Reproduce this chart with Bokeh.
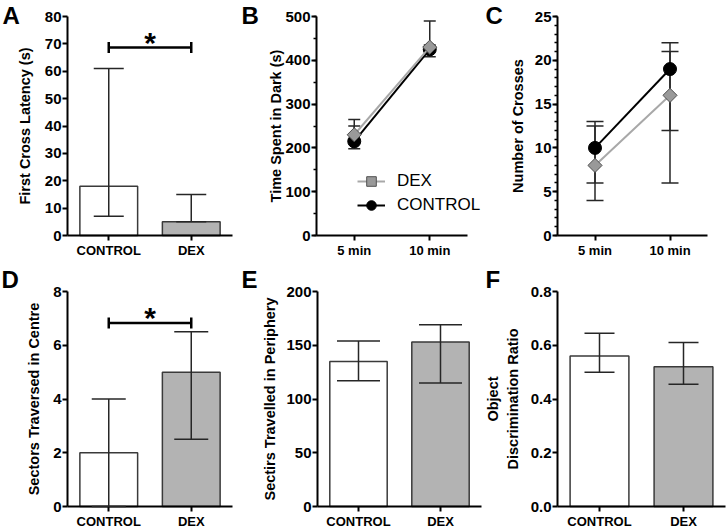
import numpy as np
from bokeh.plotting import figure
from bokeh.layouts import column, row
from bokeh.models import (Range1d, FixedTicker, SingleIntervalTicker, Whisker, TeeHead,
                          ColumnDataSource, Label, Legend, LegendItem, PrintfTickFormatter)
from bokeh.embed import file_html
from bokeh.resources import INLINE
from bokeh.core.properties import value

FONT = "Liberation Sans"

# ---------------- data ----------------
groups = ["CONTROL", "DEX"]
times = ["5 min", "10 min"]

# A: first cross latency
a_vals = [18, 5]
a_upper = [61, 15]
a_lower = [7, 5]
a_sig = 68.7

# B: time spent in dark
b_ctl = [215, 425]
b_ctl_upper = [250, 435]
b_ctl_lower = [198, 408]
b_dex = [230, 430]
b_dex_upper = [265, 490]
b_dex_lower = [218, 425]

# C: number of crosses
c_ctl = [10, 19]
c_ctl_upper = [13, 22]
c_ctl_lower = [6, 12]
c_dex = [8, 16]
c_dex_upper = [12.5, 21]
c_dex_lower = [4, 6]

# D: sectors traversed in centre
d_vals = [2, 5]
d_upper = [4, 6.5]
d_lower = [0, 2.5]
d_sig = 6.83

# E: sectors travelled in periphery
e_vals = [135, 153]
e_upper = [154, 169]
e_lower = [117, 115]

# F: object discrimination ratio
f_vals = [0.56, 0.52]
f_upper = [0.645, 0.61]
f_lower = [0.50, 0.455]

BAR_COLORS = ["white", "#b3b3b3"]
BAR_LINE = "#3a3a3a"
EB = "#262626"


def base_fig(W, H, L, T, FW, FH, ymax, interval, minor, ylabel, standoff, labels, fmt=None):
    """Figure whose frame covers the whole cell; the axes are pinned at x=0 / y=0."""
    n = len(labels)
    x0 = -L / FW * n
    x1 = (W - L) / FW * n
    y0 = -(H - T - FH) / FH * ymax
    y1 = ymax + T / FH * ymax
    p = figure(width=W, height=H, x_range=Range1d(x0, x1), y_range=Range1d(y0, y1),
               output_backend="svg", toolbar_location=None, min_border=0)
    p.outline_line_color = None
    p.grid.visible = False
    xpos = [i + 0.5 for i in range(n)]
    xa = p.xaxis[0]
    xa.fixed_location = 0
    xa.bounds = (0, n)
    xa.ticker = FixedTicker(ticks=xpos)
    xa.major_label_overrides = {x: l for x, l in zip(xpos, labels)}
    xa.axis_line_width = 2
    xa.axis_line_color = "black"
    xa.major_tick_out = 5
    xa.major_tick_in = 0
    xa.major_tick_line_width = 2
    xa.minor_tick_line_color = None
    xa.major_label_text_font = FONT
    xa.major_label_text_font_style = "bold"
    xa.major_label_text_font_size = "13px"
    xa.major_label_text_color = "black"
    xa.major_label_standoff = 2
    ya = p.yaxis[0]
    ya.fixed_location = 0
    ya.bounds = (0, ymax)
    ya.ticker = SingleIntervalTicker(interval=interval, num_minor_ticks=minor)
    if fmt:
        ya.formatter = PrintfTickFormatter(format=fmt)
    ya.axis_line_width = 2
    ya.axis_line_color = "black"
    ya.major_tick_out = 5
    ya.major_tick_in = 0
    ya.major_tick_line_width = 2
    if minor:
        ya.minor_tick_out = 3
        ya.minor_tick_in = 0
        ya.minor_tick_line_width = 1.5
        ya.minor_tick_line_color = "black"
    else:
        ya.minor_tick_line_color = None
    ya.major_label_text_font = FONT
    ya.major_label_text_font_style = "bold"
    ya.major_label_text_font_size = "15px"
    ya.major_label_text_color = "black"
    ya.major_label_standoff = 1
    ya.axis_label = ylabel
    ya.axis_label_text_font = FONT
    ya.axis_label_text_font_style = "bold"
    ya.axis_label_text_font_size = "14.5px"
    ya.axis_label_text_color = "black"
    ya.axis_label_standoff = standoff
    return p, xpos


def letter(p, text, x, y):
    p.add_layout(Label(x=x, y=y, x_units="screen", y_units="screen", text=text,
                       text_font=FONT, text_font_style="bold", text_font_size="24px",
                       text_baseline="top", text_align="left", text_color="black"))


def whisker(p, xpos, upper, lower, cap, level):
    src = ColumnDataSource(dict(x=xpos, upper=upper, lower=lower))
    w = Whisker(source=src, base="x", upper="upper", lower="lower",
                line_color=EB, line_width=1.5, level=level,
                upper_head=TeeHead(size=cap, line_color=EB, line_width=1.5),
                lower_head=TeeHead(size=cap, line_color=EB, line_width=1.5))
    p.add_layout(w)


def bar_panel(p, xpos, vals, upper, lower, cap):
    p.vbar(x=xpos, top=vals, bottom=0, width=0.7, fill_color=BAR_COLORS,
           line_color=BAR_LINE, line_width=1.5)
    whisker(p, xpos, upper, lower, cap, "annotation")


def sig_bracket(p, xpos, y):
    p.segment(x0=[xpos[0]], y0=[y], x1=[xpos[1]], y1=[y], line_color="black", line_width=2.5)
    p.scatter(x=xpos, y=[y, y], marker="dash", angle=np.pi / 2, size=11,
              line_color="black", line_width=2.5)
    p.text(x=[(xpos[0] + xpos[1]) / 2], y=[y], text=["*"], text_font=value(FONT),
           text_font_style="bold", text_font_size="30px", text_align="center",
           text_baseline="middle", y_offset=-5, text_color="black")


def line_panel(p, xpos, ctl, cu, cl, dex, du, dl, cap):
    whisker(p, xpos, cu, cl, cap, "underlay")
    whisker(p, xpos, du, dl, cap, "underlay")
    cl_line = p.line(x=xpos, y=ctl, line_color="black", line_width=2)
    cl_pts = p.scatter(x=xpos, y=ctl, marker="circle", size=13, fill_color="black",
                       line_color="black")
    dx_line = p.line(x=xpos, y=dex, line_color="#a8a8a8", line_width=2)
    dx_pts = p.scatter(x=xpos, y=dex, marker="square", angle=np.pi / 4, size=10,
                       fill_color="#999999", line_color="#505050", line_width=1)
    return cl_line, cl_pts, dx_line, dx_pts


# ---------------- row 1 ----------------
H1, T1, FH1 = 265, 16, 219
pa, xa_pos = base_fig(240, H1, 67, T1, 165, FH1, 80, 10, 0, "First Cross Latency (s)", 9, groups)
bar_panel(pa, xa_pos, a_vals, a_upper, a_lower, 30)
sig_bracket(pa, xa_pos, a_sig)
letter(pa, "A", 2, 263.5)

pb, xb_pos = base_fig(242, H1, 76, T1, 151, FH1, 500, 100, 2, "Time Spent in Dark (s)", -2, times)
cl_line, cl_pts, dx_line, dx_pts = line_panel(pb, xb_pos, b_ctl, b_ctl_upper, b_ctl_lower,
                                              b_dex, b_dex_upper, b_dex_lower, 12)
leg = Legend(items=[LegendItem(label="DEX", renderers=[dx_line, dx_pts]),
                    LegendItem(label="CONTROL", renderers=[cl_line, cl_pts])],
             location=(117, 48), padding=0, spacing=0, margin=0, glyph_width=28,
             glyph_height=24, label_height=24, label_standoff=12,
             label_text_font=FONT, label_text_font_size="17px", label_text_color="black",
             border_line_color=None, background_fill_alpha=0)
pb.add_layout(leg)
letter(pb, "B", 1, 263.5)

pc, xc_pos = base_fig(245, H1, 75, T1, 150, FH1, 25, 5, 5, "Number of Crosses", 6, times)
line_panel(pc, xc_pos, c_ctl, c_ctl_upper, c_ctl_lower, c_dex, c_dex_upper, c_dex_lower, 17)
letter(pc, "C", 3, 263.5)

# ---------------- row 2 ----------------
H2, T2, FH2 = 266, 26, 215
pd_, xd_pos = base_fig(240, H2, 67, T2, 165, FH2, 8, 2, 0, "Sectors Traversed in Centre", 8, groups)
bar_panel(pd_, xd_pos, d_vals, d_upper, d_lower, 34)
sig_bracket(pd_, xd_pos, d_sig)
letter(pd_, "D", 1, 265.5)

pe, xe_pos = base_fig(242, H2, 77, T2, 164, FH2, 200, 50, 0, "Sectirs Travelled in Periphery", 5, groups)
bar_panel(pe, xe_pos, e_vals, e_upper, e_lower, 43)
letter(pe, "E", 1, 265.5)

pf, xf_pos = base_fig(245, H2, 75, T2, 168, FH2, 0.8, 0.2, 0, "Object\nDiscrimination Ratio", 7, groups, fmt="%.1f")
bar_panel(pf, xf_pos, f_vals, f_upper, f_lower, 30)
letter(pf, "F", 3, 265.5)

layout = column(row(pa, pb, pc), row(pd_, pe, pf))
open("out.html", "w").write(file_html(layout, INLINE))
